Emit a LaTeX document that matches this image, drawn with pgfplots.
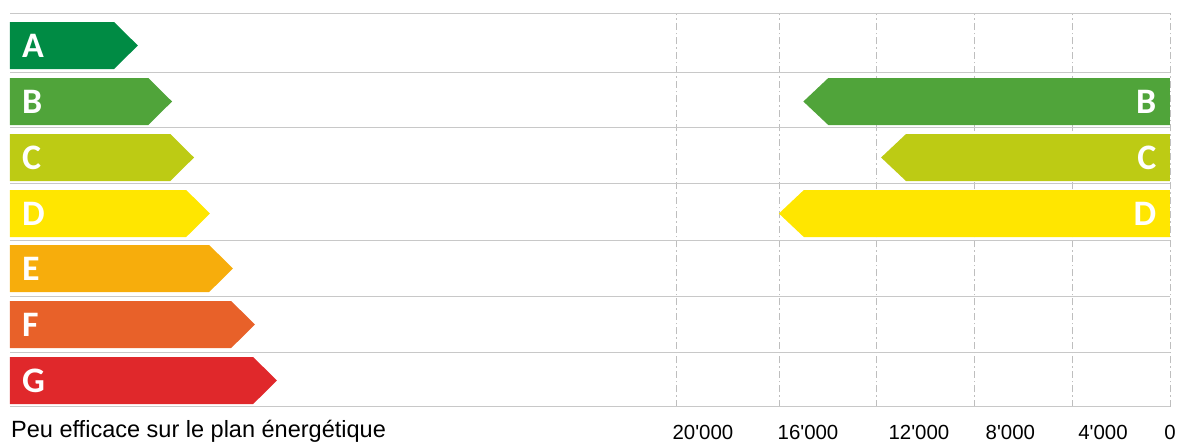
\documentclass[border=0pt]{standalone}
\usepackage{fontspec}
\setmainfont{Liberation Sans}
\newfontfamily\carlito{Carlito}
\usepackage{pgfplots}
\pgfplotsset{compat=1.18}
\definecolor{cA}{RGB}{0,139,68}
\definecolor{cB}{RGB}{80,164,58}
\definecolor{cC}{RGB}{189,203,20}
\definecolor{cD}{RGB}{255,230,0}
\definecolor{cE}{RGB}{247,173,12}
\definecolor{cF}{RGB}{232,97,41}
\definecolor{cG}{RGB}{224,40,43}
\definecolor{gridgray}{RGB}{190,190,190}
\definecolor{sepgray}{RGB}{200,200,200}
\tikzset{lbl/.style={anchor=west, text=white, inner sep=0pt, font=\carlito\bfseries\fontsize{36}{36}\selectfont},
 rlbl/.style={anchor=east, text=white, inner sep=0pt, font=\carlito\bfseries\fontsize{36}{36}\selectfont}}
\begin{document}
\begin{tikzpicture}
\path[use as bounding box] (0,0) rectangle (1181bp,443bp);
\begin{axis}[
 at={(10bp,36bp)}, anchor=south west,
 width=1160bp, height=394bp, scale only axis,
 x dir=reverse, xmin=0, xmax=47.46, ymin=0, ymax=7,
 enlargelimits=false,
 axis line style={draw=none},
 xtick={0,4,8,12,16,20.21}, xticklabels={},
 ytick={0,0.977,1.972,2.967,3.962,4.957,5.95,7}, yticklabels={},
 major tick length=0pt,
 xmajorgrids, ymajorgrids,
 x grid style={color=gridgray, dash pattern=on 7bp off 3bp on 1.5bp off 3bp, line width=0.8bp},
 y grid style={color=sepgray, line width=1bp},
 extra x ticks={19.11,14.81,10.27,6.53,2.74,0},
 extra x tick labels={20\textquotesingle000,16\textquotesingle000,12\textquotesingle000,8\textquotesingle000,4\textquotesingle000,0},
 extra x tick style={grid=none},
 xticklabel style={anchor=base, yshift=-32.5bp, font=\fontsize{20.5}{24}\selectfont},
]
% left arrows: (edge, bottom) (body, bottom) (tip, mid) (body, top) (edge, top)
\addplot[fill=cA, draw=none] coordinates {(47.46,6.005) (43.20,6.005) (42.23,6.4225) (43.20,6.84) (47.46,6.84)} -- cycle;
\addplot[fill=cB, draw=none] coordinates {(47.46,5.010) (41.80,5.010) (40.83,5.4275) (41.80,5.845) (47.46,5.845)} -- cycle;
\addplot[fill=cC, draw=none] coordinates {(47.46,4.015) (40.90,4.015) (39.93,4.4325) (40.90,4.850) (47.46,4.850)} -- cycle;
\addplot[fill=cD, draw=none] coordinates {(47.46,3.020) (40.25,3.020) (39.28,3.4375) (40.25,3.855) (47.46,3.855)} -- cycle;
\addplot[fill=cE, draw=none] coordinates {(47.46,2.043) (39.31,2.043) (38.34,2.4605) (39.31,2.878) (47.46,2.878)} -- cycle;
\addplot[fill=cF, draw=none] coordinates {(47.46,1.048) (38.41,1.048) (37.44,1.4655) (38.41,1.883) (47.46,1.883)} -- cycle;
\addplot[fill=cG, draw=none] coordinates {(47.46,0.053) (37.51,0.053) (36.54,0.4705) (37.51,0.888) (47.46,0.888)} -- cycle;
% right arrows (values in thousands)
\addplot[fill=cB, draw=none] coordinates {(0,5.010) (13.98,5.010) (15.00,5.4275) (13.98,5.845) (0,5.845)} -- cycle;
\addplot[fill=cC, draw=none] coordinates {(0,4.015) (10.80,4.015) (11.82,4.4325) (10.80,4.850) (0,4.850)} -- cycle;
\addplot[fill=cD, draw=none] coordinates {(0,3.020) (14.98,3.020) (16.00,3.4375) (14.98,3.855) (0,3.855)} -- cycle;
\node[lbl] at (axis cs:46.97,6.4225) {A};
\node[lbl] at (axis cs:46.97,5.4275) {B};
\node[lbl] at (axis cs:46.97,4.4325) {C};
\node[lbl] at (axis cs:46.97,3.4375) {D};
\node[lbl] at (axis cs:46.97,2.4605) {E};
\node[lbl] at (axis cs:46.97,1.4655) {F};
\node[lbl] at (axis cs:46.97,0.4705) {G};
\node[rlbl] at (axis cs:0.55,5.4275) {B};
\node[rlbl] at (axis cs:0.55,4.4325) {C};
\node[rlbl] at (axis cs:0.55,3.4375) {D};
\end{axis}
\node[anchor=base west, inner sep=0pt, font=\fontsize{23.6}{28}\selectfont] at ([xshift=1bp,yshift=-30bp]current axis.south west) {Peu efficace sur le plan énergétique};
\end{tikzpicture}
\end{document}
